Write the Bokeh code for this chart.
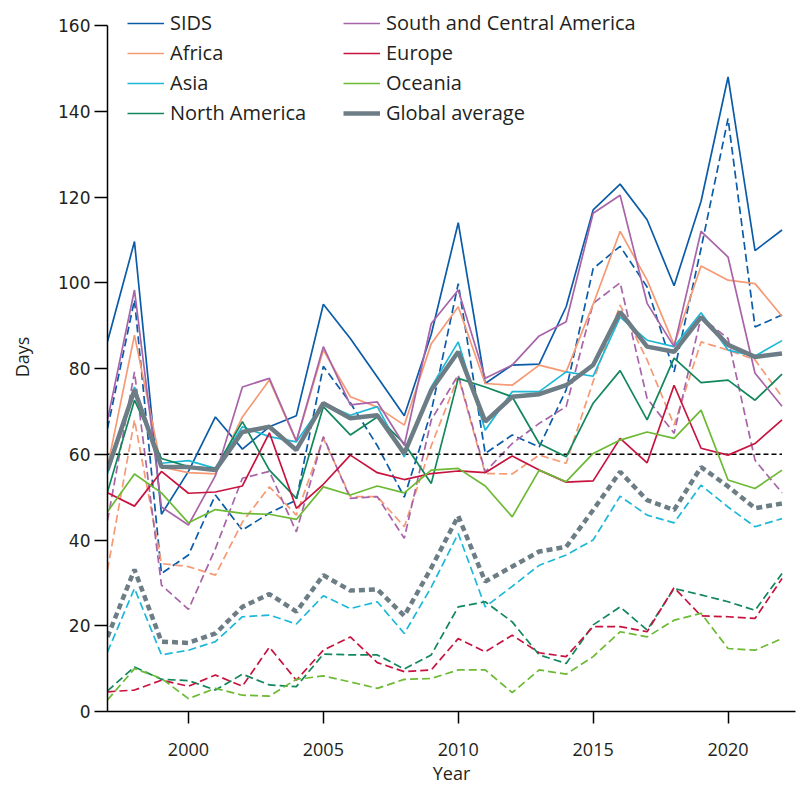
from bokeh.plotting import figure
from bokeh.models import Range1d, Legend, LegendItem, FixedTicker
from bokeh.embed import file_html
from bokeh.resources import INLINE

years = list(range(1997, 2023))

# Solid lines (series values, days)
sids = [86.3, 109.6, 46.0, 56.0, 68.7, 61.2, 66.4, 69.0, 95.0, 87.0, 78.0, 69.0, 88.0, 114.0, 76.5, 80.8, 81.0, 94.4, 117.0, 123.0, 114.7, 99.3, 119.0, 148.0, 107.5, 112.3]
africa = [57.0, 87.8, 57.0, 55.7, 55.4, 68.7, 77.3, 63.0, 84.3, 73.4, 71.0, 66.8, 85.8, 94.4, 76.5, 76.1, 80.8, 79.2, 95.0, 112.0, 100.6, 85.5, 103.9, 100.6, 99.8, 92.2]
asia = [55.5, 75.7, 57.9, 58.5, 56.7, 66.4, 64.1, 62.9, 71.9, 69.1, 71.1, 59.4, 75.7, 86.2, 65.6, 74.6, 74.6, 79.2, 78.2, 92.0, 86.6, 85.1, 93.0, 84.3, 82.9, 86.5]
north_america = [51.2, 72.6, 59.0, 57.1, 56.7, 67.6, 56.3, 49.7, 71.1, 64.5, 68.7, 62.5, 53.2, 77.7, 75.7, 73.4, 62.5, 59.4, 71.9, 79.5, 68.0, 82.4, 76.7, 77.3, 72.6, 78.7]
south_central_america = [68.0, 98.3, 47.7, 43.5, 55.0, 75.7, 77.7, 63.1, 85.1, 71.5, 72.2, 62.1, 90.5, 98.3, 77.7, 80.8, 87.6, 90.9, 116.2, 120.4, 95.2, 85.1, 112.0, 106.0, 78.9, 71.2]
europe = [51.0, 47.9, 56.0, 50.9, 51.2, 52.6, 65.0, 47.4, 53.0, 59.8, 55.7, 54.1, 55.5, 56.1, 55.7, 59.6, 56.3, 53.5, 53.8, 63.7, 58.0, 76.1, 61.4, 59.8, 62.5, 68.0]
oceania = [46.6, 55.4, 51.0, 44.0, 47.1, 46.2, 46.0, 44.8, 52.4, 50.5, 52.6, 51.0, 56.3, 56.7, 52.6, 45.4, 56.3, 53.6, 60.2, 63.3, 65.2, 63.7, 70.3, 54.0, 52.0, 56.3]
global_avg = [56.3, 75.0, 57.1, 57.0, 56.3, 65.2, 66.4, 61.0, 71.9, 68.4, 69.1, 60.2, 75.0, 83.9, 67.6, 73.4, 74.0, 76.1, 80.8, 93.2, 85.1, 83.9, 92.0, 85.5, 82.7, 83.5]

# Dashed lines (series values, days)
sids_d = [66.0, 96.0, 32.2, 36.5, 50.5, 42.3, 46.3, 49.3, 80.5, 72.0, 62.0, 50.0, 70.0, 99.8, 60.2, 64.5, 61.7, 75.0, 103.3, 108.5, 99.0, 79.2, 108.0, 138.3, 89.7, 92.5]
africa_d = [33.0, 68.0, 34.5, 33.8, 31.8, 44.2, 52.4, 45.8, 63.7, 50.1, 50.1, 43.1, 62.0, 78.1, 55.5, 55.4, 59.8, 57.9, 77.0, 94.8, 82.0, 66.8, 86.2, 84.3, 82.0, 73.4]
asia_d = [13.9, 28.7, 13.2, 14.3, 16.3, 22.1, 22.5, 20.4, 27.0, 24.0, 25.6, 18.2, 29.0, 41.5, 24.4, 29.2, 34.1, 36.5, 40.0, 50.2, 45.8, 44.0, 52.8, 47.7, 43.1, 45.0]
north_america_d = [4.8, 10.4, 7.5, 7.2, 5.0, 8.7, 6.2, 5.8, 13.4, 13.2, 13.2, 9.9, 13.2, 24.4, 25.6, 20.9, 13.2, 11.2, 20.2, 24.4, 19.0, 28.7, 27.2, 25.6, 23.6, 32.2]
south_central_america_d = [44.5, 79.2, 29.5, 23.8, 38.0, 54.4, 56.0, 41.9, 64.1, 49.7, 50.1, 40.4, 68.0, 78.5, 55.9, 62.5, 67.2, 71.1, 95.2, 100.0, 73.0, 64.9, 92.0, 87.0, 58.6, 51.0]
europe_d = [4.6, 5.0, 7.3, 5.9, 8.5, 5.9, 15.0, 7.3, 14.3, 17.4, 11.4, 9.3, 9.7, 17.0, 13.9, 17.8, 13.7, 12.8, 19.8, 19.8, 18.6, 28.9, 22.3, 22.1, 21.7, 31.0]
oceania_d = [2.7, 10.0, 7.7, 3.0, 5.4, 3.8, 3.6, 7.5, 8.3, 6.9, 5.4, 7.5, 7.7, 9.7, 9.7, 4.4, 9.7, 8.7, 12.8, 18.6, 17.4, 21.3, 22.9, 14.7, 14.3, 17.0]
global_avg_d = [17.4, 33.1, 16.3, 16.0, 18.2, 24.4, 27.4, 23.3, 31.8, 28.2, 28.5, 22.3, 33.5, 45.6, 30.3, 33.8, 37.3, 38.4, 47.0, 55.9, 49.3, 47.0, 57.0, 52.5, 47.4, 48.5]

threshold = 60
x_ticks = [2000, 2005, 2010, 2015, 2020]
y_ticks = [0, 20, 40, 60, 80, 100, 120, 140, 160]
y_max = 160

names = ["SIDS", "Africa", "Asia", "North America",
         "South and Central America", "Europe", "Oceania", "Global average"]
colors = ["#0b5ca8", "#f59a74", "#1db8d8", "#11875b",
          "#a864a8", "#c8133f", "#6cba34", "#6c7d86"]
solid = [sids, africa, asia, north_america, south_central_america, europe, oceania, global_avg]
dashed = [sids_d, africa_d, asia_d, north_america_d, south_central_america_d, europe_d, oceania_d, global_avg_d]

# frame: 709 px high; 686 px for 0..160, 23 px of headroom for the legend
p = figure(width=798, height=788, output_backend="svg", toolbar_location=None,
           x_range=Range1d(1997, 2022.5), y_range=Range1d(0, y_max * 709 / 686),
           min_border_left=107, min_border_right=3, min_border_top=2, min_border_bottom=77)
p.outline_line_color = None
p.xgrid.visible = False
p.ygrid.visible = False

FONT = "Open Sans"
TXT = "#231f20"

for ax in (p.xaxis[0], p.yaxis[0]):
    ax.axis_line_color = "black"
    ax.axis_line_width = 1.5
    ax.major_tick_line_color = "black"
    ax.major_tick_line_width = 1.5
    ax.minor_tick_line_color = None
    ax.major_tick_in = 0
    ax.major_label_text_color = TXT
    ax.axis_label_text_font = FONT
    ax.axis_label_text_font_style = "normal"
    ax.axis_label_text_color = TXT
    ax.axis_label_text_font_size = "18px"

p.yaxis.bounds = (0, y_max)
p.xaxis.major_label_text_font = FONT
p.xaxis.major_label_text_font_size = "18px"
p.yaxis.major_label_text_font = "DejaVu Sans"
p.yaxis.major_label_text_font_size = "17px"

p.xaxis.ticker = FixedTicker(ticks=x_ticks)
p.yaxis.ticker = FixedTicker(ticks=y_ticks)
p.xaxis.major_tick_out = 12
p.yaxis.major_tick_out = 13
p.xaxis.major_label_standoff = 19
p.yaxis.major_label_standoff = 4
p.xaxis.axis_label = "Year"
p.yaxis.axis_label = "Days"
p.xaxis.axis_label_standoff = 2
p.yaxis.axis_label_standoff = 21

renderers = []
for vals, col, nm in zip(dashed, colors, names):
    w = 4.5 if nm == "Global average" else 1.7
    dash = "6 4" if nm == "Global average" else "8 4"
    p.line(years, vals, line_color=col, line_width=w, line_dash=dash)

p.line([years[0], years[-1]], [threshold, threshold], line_color="black",
       line_width=1.5, line_dash="5 3")

for vals, col, nm in zip(solid, colors, names):
    w = 4.5 if nm == "Global average" else 1.7
    r = p.line(years, vals, line_color=col, line_width=w)
    renderers.append(r)

def make_legend(items, vx, vy):
    lg = Legend(items=items, location=(vx, vy), orientation="vertical",
                background_fill_alpha=0, border_line_alpha=0,
                padding=0, margin=0, spacing=3,
                glyph_width=37, glyph_height=20, label_height=20,
                label_standoff=6, label_text_font=FONT,
                label_text_font_size="20px", label_text_color=TXT)
    return lg

items1 = [LegendItem(label=names[i], renderers=[renderers[i]]) for i in range(4)]
items2 = [LegendItem(label=names[i], renderers=[renderers[i]]) for i in range(4, 8)]
p.add_layout(make_legend(items1, 20, 585), "center")
p.add_layout(make_legend(items2, 236, 585), "center")

open("out.html", "w").write(file_html(p, INLINE))
